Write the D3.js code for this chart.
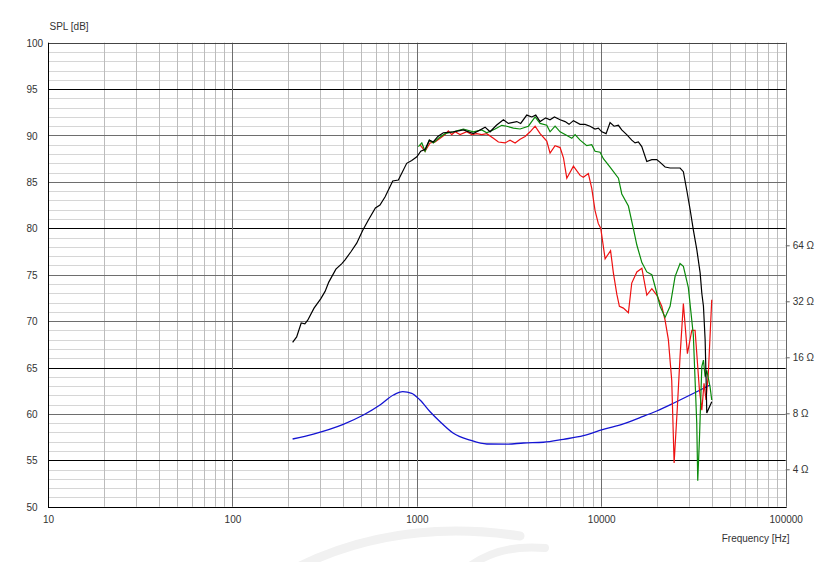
<!DOCTYPE html>
<html>
<head>
<meta charset="utf-8">
<script src="https://cdn.jsdelivr.net/npm/d3@7"></script>
<style>
  html, body { margin: 0; padding: 0; background: #fff; }
  svg { display: block; }
  text { font-family: "Liberation Sans", Arial, sans-serif; font-size: 10px; fill: #333; }
</style>
</head>
<body>
<svg id="chart" width="834" height="562"></svg>
<script>
// ---------- data (frequency in Hz, SPL in dB, impedance in ohm) ----------
const splTicks = [50, 55, 60, 65, 70, 75, 80, 85, 90, 95, 100];
const freqTicks = [10, 100, 1000, 10000, 100000];
const ohmTicks = [4, 8, 16, 32, 64];

// on-axis response (black)
const splOnAxis = [
  [212,67.7],[223,68.3],[236,69.8],[247,69.7],[256,70.1],[277,71.4],[301,72.4],[318,73.2],
  [333,74.2],[364,75.6],[392,76.2],[408,76.6],[440,77.5],[472,78.4],[509,79.8],[546,80.9],
  [596,82.2],[631,82.5],[673,83.4],[740,85.1],[794,85.2],[881,87.0],[938,87.3],[1000,87.7],
  [1050,88.3],[1107,88.5],[1169,89.5],[1228,89.3],[1300,89.9],[1392,90.3],[1578,90.4],[1787,90.6],
  [2024,90.2],[2200,90.6],[2344,90.9],[2495,90.4],[2700,91.1],[2946,91.7],[3134,91.3],[3483,91.5],
  [3656,91.3],[3945,92.2],[4198,92.0],[4413,92.2],[4656,91.5],[5000,91.9],[5272,91.7],[5572,92.0],
  [5984,91.7],[6368,91.5],[6688,91.2],[7063,91.6],[7674,91.2],[8168,91.2],[8690,91.0],[9250,90.7],
  [9641,90.8],[10070,90.4],[10620,90.2],[11160,91.4],[11730,91.0],[12380,91.1],[12910,90.6],
  [13740,90.1],[14630,89.5],[15250,89.2],[15890,89.3],[16580,88.8],[17650,87.2],[18790,87.4],
  [19990,87.4],[20850,87.1],[22190,86.6],[23620,86.5],[26740,86.5],[27870,86.1],[29080,84.1],
  [30330,82.0],[31580,79.8],[32960,77.7],[34360,75.2],[35090,73.0],[35810,71.6],[36570,68.0],
  [37020,63.7],[37330,60.1],[39720,61.3]
];

// 30 degree off-axis (green)
const spl30deg = [
  [1019,88.8],[1064,89.2],[1108,88.3],[1169,89.5],[1229,89.2],[1309,89.7],[1422,90.2],[1578,90.4],
  [1787,90.7],[2024,90.4],[2249,90.6],[2394,90.3],[2656,90.7],[2887,91.1],[3073,91.0],[3337,90.8],
  [3630,90.7],[4025,91.0],[4377,92.0],[4659,91.3],[5063,91.1],[5276,90.4],[5617,91.0],[5980,90.4],
  [6366,90.1],[6922,89.7],[7211,90.1],[7677,89.5],[8341,88.9],[8880,89.0],[9253,88.3],[9853,88.2],
  [10270,87.5],[11160,86.6],[12390,85.4],[12920,83.7],[14030,82.4],[14880,80.1],[15590,78.2],
  [16600,76.3],[17660,75.3],[18800,75.0],[19590,73.7],[20840,71.6],[22180,70.4],[23610,71.6],
  [25120,74.8],[26740,76.2],[27870,75.9],[29660,73.6],[31560,68.5],[32940,59.0],[33350,52.8],
  [34050,57.2],[35090,65.1],[35810,65.8],[36570,64.0],[37330,64.7],[38900,62.9],[39720,61.5]
];

// 60 degree off-axis (red)
const spl60deg = [
  [1040,89.0],[1108,88.3],[1179,89.2],[1255,89.3],[1337,89.7],[1422,90.1],[1482,90.5],[1546,90.1],
  [1611,90.4],[1715,90.1],[1865,90.4],[1985,90.1],[2113,90.2],[2249,90.1],[2394,90.2],[2600,89.7],
  [2768,89.3],[3009,89.2],[3202,89.5],[3409,89.2],[3630,89.6],[3864,89.9],[4113,90.4],[4377,91.0],
  [4659,90.2],[5063,89.4],[5276,88.1],[5617,88.9],[5980,88.7],[6237,87.6],[6502,85.4],[7062,86.7],
  [7677,85.7],[7993,85.5],[8510,85.9],[8880,84.3],[9253,81.9],[9638,80.5],[9934,80.0],[10270,78.0],
  [10490,76.7],[11230,77.6],[11630,75.2],[12140,72.9],[12540,71.6],[13180,71.4],[14030,70.9],
  [14630,74.1],[15590,75.3],[16600,75.7],[17660,72.8],[18800,73.5],[19990,72.8],[21280,71.6],
  [22180,70.1],[23110,68.0],[24100,63.6],[24830,54.7],[25870,60.8],[26740,66.2],[27870,71.9],
  [29310,66.5],[30960,69.0],[32260,69.0],[34050,62.6],[35090,60.4],[36070,63.3],[36980,61.5],
  [38070,64.4],[39720,72.3]
];

// impedance (blue, right axis)
const impedance = [
  [212,5.82],[275,6.19],[399,6.98],[513,7.83],[631,8.86],[746,10.03],[839,10.45],[938,10.25],
  [1040,9.43],[1180,8.16],[1337,7.21],[1578,6.25],[1945,5.74],[2395,5.47],[3076,5.46],[3786,5.54],
  [4857,5.59],[6230,5.80],[7998,6.06],[10260,6.56],[13180,7.01],[16220,7.58],[19990,8.23],
  [24600,9.06],[30330,10.03],[37330,11.12],[38900,11.35]
];

// ---------- chart ----------
const svg = d3.select("#chart");
const L = 48, R = 785.7, T = 42.7, B = 506.7;

const x = d3.scaleLog().domain([10, 100000]).range([L, R]);
const y = d3.scaleLinear().domain([50, 100]).range([B, T]);
const z = d3.scaleLog().base(2).domain([4, 64]).range([469.3, 245.3]);

// faint background watermark (decorative)
const wm = svg.append("g").attr("fill", "none").attr("stroke", "#f1f1f1").attr("stroke-linecap", "round");
wm.append("path").attr("d", "M300,566 Q400,518 520,536").attr("stroke-width", 9);
wm.append("path").attr("d", "M470,566 Q500,544 545,548").attr("stroke-width", 8);

const crisp = v => Math.round(v) + 0.5;
const grid = svg.append("g");

// horizontal 1 dB minor lines
d3.range(51, 100).filter(v => v % 5 !== 0).forEach(v => {
  grid.append("line").attr("x1", L).attr("x2", R)
    .attr("y1", crisp(y(v))).attr("y2", crisp(y(v)))
    .attr("stroke", "#d6d6d6").attr("stroke-width", 1);
});
// vertical minor lines
x.ticks().filter(v => Math.abs(Math.log10(v) - Math.round(Math.log10(v))) > 1e-6).forEach(v => {
  grid.append("line").attr("y1", T).attr("y2", B)
    .attr("x1", crisp(x(v))).attr("x2", crisp(x(v)))
    .attr("stroke", "#bcbcbc").attr("stroke-width", 1);
});
// horizontal 5 dB lines
const blackLines = [95, 80, 65, 55];
splTicks.filter(v => v > 50 && v < 100).forEach(v => {
  const isBlack = blackLines.includes(v);
  grid.append("line").attr("x1", L).attr("x2", R)
    .attr("y1", crisp(y(v))).attr("y2", crisp(y(v)))
    .attr("stroke", isBlack ? "#000" : "#6e6e6e").attr("stroke-width", 1);
});
// vertical decade lines
freqTicks.slice(1, -1).forEach(v => {
  grid.append("line").attr("y1", T).attr("y2", B)
    .attr("x1", crisp(x(v))).attr("x2", crisp(x(v)))
    .attr("stroke", "#6e6e6e").attr("stroke-width", 1);
});
// frame
svg.append("line").attr("x1", L).attr("x2", R).attr("y1", crisp(T)).attr("y2", crisp(T)).attr("stroke", "#444");
svg.append("line").attr("x1", crisp(R)).attr("x2", crisp(R)).attr("y1", T).attr("y2", B).attr("stroke", "#666");
svg.append("line").attr("x1", L).attr("x2", R + 1).attr("y1", crisp(B)).attr("y2", crisp(B)).attr("stroke", "#000");
svg.append("line").attr("x1", crisp(L)).attr("x2", crisp(L)).attr("y1", T).attr("y2", B + 1).attr("stroke", "#000");

// axes
const yAxis = svg.append("g").attr("transform", `translate(${L},0)`)
  .call(d3.axisLeft(y).tickValues(splTicks).tickSize(0).tickFormat(d3.format("d")));
yAxis.select(".domain").remove();
yAxis.selectAll("text").attr("text-anchor", "start").attr("x", 26.5 - L).attr("dy", "0.36em");
yAxis.attr("font-family", null).attr("font-size", null);

const xAxis = svg.append("g").attr("transform", `translate(0,${B})`)
  .call(d3.axisBottom(x).tickValues(freqTicks).tickSize(0).tickPadding(9).tickFormat(d3.format("d")));
xAxis.select(".domain").remove();
xAxis.attr("font-family", null).attr("font-size", null);

const zAxis = svg.append("g").attr("transform", `translate(${R},0)`)
  .call(d3.axisRight(z).tickValues(ohmTicks).tickSize(4).tickPadding(3).tickFormat(d => d + " \u03A9"));
zAxis.select(".domain").remove();
zAxis.selectAll("line").attr("stroke", "#666");
zAxis.attr("font-family", null).attr("font-size", null);

svg.append("text").attr("x", 49.5).attr("y", 30).text("SPL [dB]");
svg.append("text").attr("x", 789.5).attr("y", 541.5).attr("text-anchor", "end").text("Frequency [Hz]");

// curves
svg.append("clipPath").attr("id", "plotclip").append("rect")
  .attr("x", L).attr("y", T).attr("width", R - L).attr("height", B - T);
const plot = svg.append("g").attr("clip-path", "url(#plotclip)");

const splLine = d3.line().x(d => x(d[0])).y(d => y(d[1]));
const ohmLine = d3.line().x(d => x(d[0])).y(d => z(d[1])).curve(d3.curveMonotoneX);

plot.append("path").datum(impedance).attr("d", ohmLine)
  .attr("fill", "none").attr("stroke", "#1414d2").attr("stroke-width", 1.3);
plot.append("path").datum(spl60deg).attr("d", splLine)
  .attr("fill", "none").attr("stroke", "#ee1111").attr("stroke-width", 1.2);
plot.append("path").datum(spl30deg).attr("d", splLine)
  .attr("fill", "none").attr("stroke", "#0a8a0a").attr("stroke-width", 1.2);
plot.append("path").datum(splOnAxis).attr("d", splLine)
  .attr("fill", "none").attr("stroke", "#000").attr("stroke-width", 1.2);
</script>
</body>
</html>
